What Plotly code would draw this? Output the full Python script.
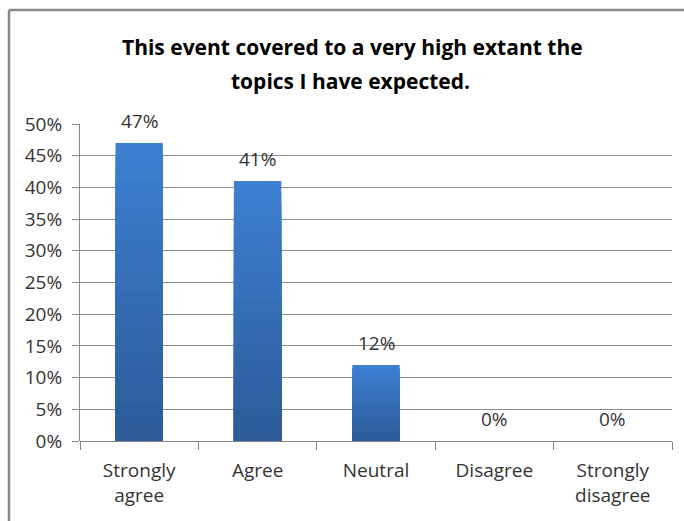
import plotly.graph_objects as go

categories = ["Strongly<br>agree", "Agree", "Neutral", "Disagree", "Strongly<br>disagree"]
values = [47, 41, 12, 0, 0]
labels = ["47%", "41%", "12%", "0%", "0%"]
y_ticks = [0, 5, 10, 15, 20, 25, 30, 35, 40, 45, 50]
y_ticktext = [f"{v}%" for v in y_ticks]
title_lines = ["This event covered to a very high extant the", "topics I have expected."]

FONT = "Open Sans"
top_col = (0x3C, 0x7F, 0xD1)
bot_col = (0x2C, 0x5A, 0x96)
N = 24

L, T, R, B = 80, 124, 12, 80
W, H = 684, 521
PW, PH = W - L - R, H - T - B

def px_x(px):  # figure pixel x -> paper
    return (px - L) / PW

def px_y(py):  # figure pixel y -> paper
    return 1 + (T - py) / PH

fig = go.Figure()
for k in range(N):
    frac = (N - k) / N
    t = 1 - frac
    c = tuple(int(round(top_col[i] + (bot_col[i] - top_col[i]) * t)) for i in range(3))
    fig.add_trace(go.Bar(
        x=categories,
        y=[v * frac for v in values],
        width=0.4,
        marker=dict(color=f"rgb{c}", line=dict(width=0)),
        showlegend=False,
        hoverinfo="skip",
    ))

for cat, v, lab in zip(categories, values, labels):
    fig.add_annotation(x=cat, y=v, text=lab, showarrow=False, yanchor="bottom",
                       yshift=7, font=dict(family=FONT, size=19, color="#333333"))

fig.add_annotation(xref="paper", yref="paper", x=px_x(352), y=px_y(47),
                   text=f"<b>{title_lines[0]}</b>", showarrow=False, yanchor="middle",
                   font=dict(family=FONT, size=21, color="#000000"))
fig.add_annotation(xref="paper", yref="paper", x=px_x(350), y=px_y(81),
                   text=f"<b>{title_lines[1]}</b>", showarrow=False, yanchor="middle",
                   font=dict(family=FONT, size=21, color="#000000"))

# chart frame
fig.add_shape(type="line", xref="paper", yref="paper", x0=px_x(9), x1=px_x(9),
              y0=px_y(10), y1=px_y(530), line=dict(color="#888888", width=2.5))
fig.add_shape(type="line", xref="paper", yref="paper", x0=px_x(9), x1=px_x(700),
              y0=px_y(10), y1=px_y(10), line=dict(color="#888888", width=2.5))

fig.update_layout(
    barmode="overlay",
    width=W, height=H,
    margin=dict(l=L, r=R, t=T, b=B),
    paper_bgcolor="white", plot_bgcolor="white",
    font=dict(family=FONT, size=19, color="#333333"),
    xaxis=dict(
        type="category", showgrid=False, showline=False,
        ticks="outside", tickson="boundaries", ticklen=8, tickcolor="#888888",
        ticklabelstandoff=16,
        tickfont=dict(family=FONT, size=19, color="#333333"),
    ),
    yaxis=dict(
        range=[0, 50], tickvals=y_ticks, ticktext=y_ticktext,
        showgrid=True, gridcolor="#8c8c8c", gridwidth=1,
        showline=True, linecolor="#888888", linewidth=1,
        ticks="outside", ticklen=7, tickcolor="#888888",
        ticklabelstandoff=6, zeroline=True, zerolinecolor="#888888", zerolinewidth=1,
        tickfont=dict(family=FONT, size=19, color="#333333"),
    ),
)

fig.write_html("out.html", config={"displayModeBar": False},
               post_script="document.body.style.margin='0';document.body.style.overflow='hidden';")
